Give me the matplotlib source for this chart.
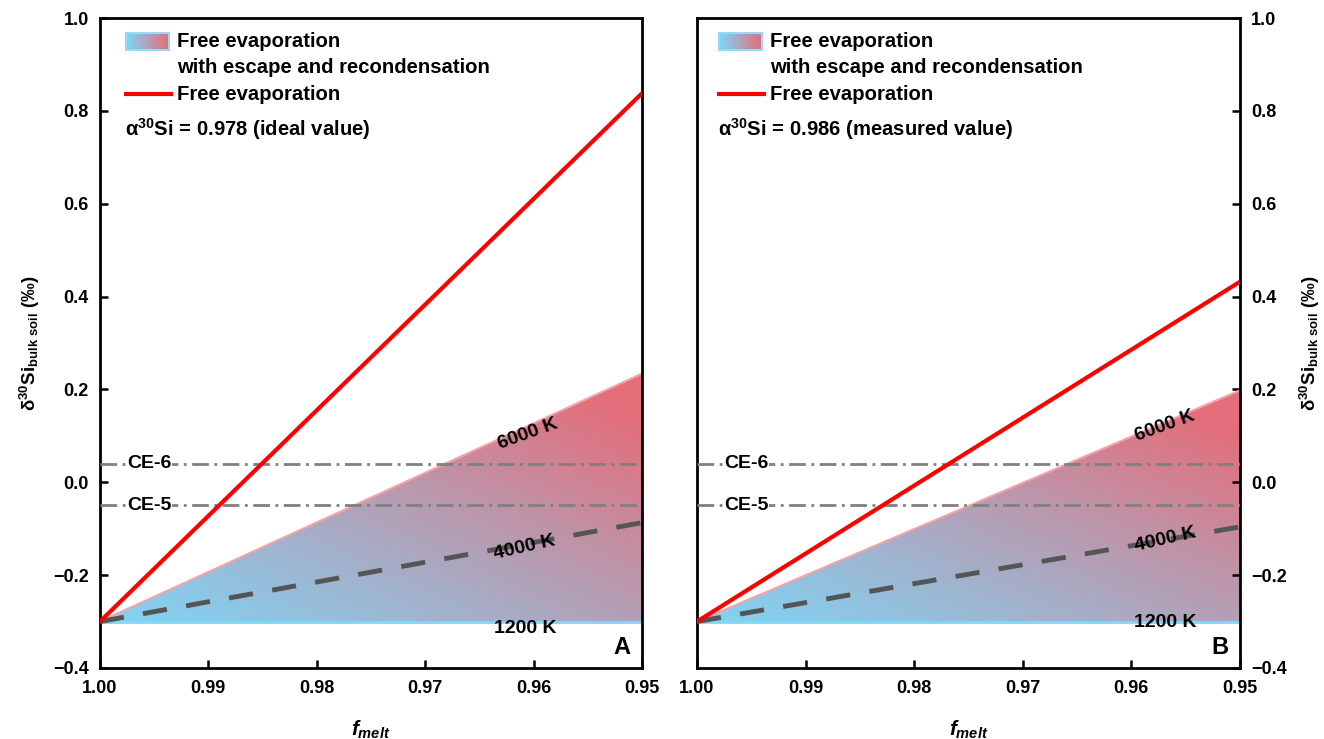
import numpy as np
import matplotlib
matplotlib.use("Agg")
import matplotlib.pyplot as plt
from matplotlib.patches import Polygon, Rectangle
from matplotlib.colors import to_rgb

plt.rcParams['font.family'] = ['Liberation Sans', 'DejaVu Sans']
plt.rcParams['font.weight'] = 'bold'
plt.rcParams['mathtext.fontset'] = 'custom'
plt.rcParams['mathtext.rm'] = 'Liberation Sans:bold'
plt.rcParams['mathtext.it'] = 'Liberation Sans:bold:italic'
plt.rcParams['mathtext.bf'] = 'Liberation Sans:bold'

# data
f_start, f_end = 1.00, 0.95
d_start = -0.30
panels = ["A", "B"]
alpha_txt = ["α$^{30}$Si = 0.978 (ideal value)", "α$^{30}$Si = 0.986 (measured value)"]
free_evap_end = [0.838, 0.432]      # red line at f=0.95
k6000_end = [0.234, 0.198]          # top of the band at f=0.95
k4000_end = [-0.087, -0.096]        # dashed line at f=0.95
ce_names = ["CE-6", "CE-5"]
ce_values = [0.04, -0.05]
xticks = [1.00, 0.99, 0.98, 0.97, 0.96, 0.95]
yticks = [-0.4, -0.2, 0.0, 0.2, 0.4, 0.6, 0.8, 1.0]

# label positions (f, delta, rotation) per panel
lab6000 = [(0.9605, 0.103, 20), (0.9569, 0.120, 20)]
lab4000 = [(0.9608, -0.140, 13), (0.9569, -0.124, 13)]
lab1200 = [(0.9608, -0.316, 0), (0.9569, -0.303, 0)]

blue = np.array(to_rgb('#80D4F5'))
red = np.array(to_rgb('#E46E7A'))

fig = plt.figure(figsize=(13.24, 7.39), dpi=100)
axA = fig.add_axes([0.0755, 0.0961, 0.4094, 0.8795])
axB = fig.add_axes([0.5264, 0.0961, 0.4101, 0.8795])

for i, ax in enumerate([axA, axB]):
    ax.set_xlim(f_start, f_end)
    ax.set_ylim(-0.4, 1.0)

    top = k6000_end[i]
    # gradient band
    n = 200
    xn = np.linspace(0, 1, n)[None, :]
    yn = np.linspace(0, 1, n)[:, None]
    t = np.clip((0.55 * xn + 0.55 * yn) ** 1.1, 0, 1)
    img = blue[None, None, :] * (1 - t[..., None]) + red[None, None, :] * t[..., None]
    im = ax.imshow(img, extent=[f_start, f_end, d_start, top], origin='lower',
                   aspect='auto', interpolation='bilinear', zorder=1)
    tri = Polygon([[f_start, d_start], [f_end, top], [f_end, d_start]],
                  closed=True, facecolor='none', edgecolor='none',
                  transform=ax.transData)
    ax.add_patch(tri)
    im.set_clip_path(tri)
    ax.plot([f_start, f_end], [d_start, top], color='#F4A3AB', lw=1.5, zorder=2)
    ax.plot([f_start, f_end], [d_start, d_start], color='#7FD6F7', lw=2, zorder=2)

    # CE lines
    for name, v in zip(ce_names, ce_values):
        ax.plot([f_start, f_end], [v, v], color='#808080', lw=2,
                dashes=(6, 2, 1, 2), zorder=3)
        ax.text(0.9975, v, name, fontsize=14, fontweight='bold', va='center',
                ha='left', zorder=4,
                bbox=dict(facecolor='white', edgecolor='none', pad=0.5))

    # 4000 K dashed line
    ax.plot([f_start, f_end], [d_start, k4000_end[i]], color='#555555', lw=3.5,
            dashes=(5, 4), zorder=3)
    # free evaporation
    ax.plot([f_start, f_end], [d_start, free_evap_end[i]], color='#FF0000', lw=3,
            zorder=5, solid_capstyle='butt')

    for (fx, dy, rot), s in zip([lab6000[i], lab4000[i], lab1200[i]],
                                ["6000 K", "4000 K", "1200 K"]):
        ax.text(fx, dy, s, fontsize=14, fontweight='bold', rotation=rot,
                ha='center', va='center', rotation_mode='anchor', zorder=6)

    # legend, drawn by hand
    dx = 0.0 if i == 0 else -0.007
    nstr = 24
    x0, x1, y0, y1 = 0.048 + dx, 0.127 + dx, 0.951, 0.977
    for k in range(nstr):
        c = blue * (1 - k / (nstr - 1)) + red * (k / (nstr - 1))
        ax.add_patch(Rectangle((x0 + (x1 - x0) * k / nstr, y0), (x1 - x0) / nstr + 0.001,
                               y1 - y0, transform=ax.transAxes, facecolor=c,
                               edgecolor='none', zorder=6))
    ax.add_patch(Rectangle((x0, y0), x1 - x0, y1 - y0, transform=ax.transAxes,
                           facecolor='none', edgecolor='#8FDDF8', lw=1.5, zorder=7))
    fs_leg = 14.6
    ax.text(0.142 + dx, 0.9635, "Free evaporation", transform=ax.transAxes,
            fontsize=fs_leg, fontweight='bold', va='center', ha='left')
    ax.text(0.142 + dx, 0.9235, "with escape and recondensation", transform=ax.transAxes,
            fontsize=fs_leg, fontweight='bold', va='center', ha='left')
    ax.plot([0.044 + dx, 0.135 + dx], [0.883, 0.883], transform=ax.transAxes,
            color='#FF0000', lw=3, solid_capstyle='butt')
    ax.text(0.142 + dx, 0.883, "Free evaporation", transform=ax.transAxes,
            fontsize=fs_leg, fontweight='bold', va='center', ha='left')
    ax.text(0.046 + dx, 0.829, alpha_txt[i], transform=ax.transAxes,
            fontsize=fs_leg, fontweight='bold', va='center', ha='left')

    ax.text(0.963, 0.031, panels[i], transform=ax.transAxes, fontsize=17,
            fontweight='bold', ha='center', va='center')

    ax.set_xticks(xticks)
    ax.set_xticklabels([f"{v:.2f}" for v in xticks])
    ax.set_yticks(yticks)
    ax.set_yticklabels([f"{v:.1f}".replace("-", "\u2212") for v in yticks])
    for sp in ax.spines.values():
        sp.set_linewidth(2)
    ax.tick_params(direction='in', length=6, width=1.8, labelsize=13)
    ax.tick_params(axis='x', pad=9)
    ax.tick_params(axis='y', pad=8)
    for lbl in ax.get_xticklabels() + ax.get_yticklabels():
        lbl.set_fontweight('bold')
    ax.set_xlabel(r"$\mathit{f}_{\mathit{melt}}$", fontsize=15, labelpad=15)

    ylab = "δ$^{30}$Si$_{\\mathrm{bulk\\ soil}}$ (‰)"
    if i == 0:
        ax.tick_params(left=True, right=False, labelleft=True, labelright=False,
                       top=False)
        ax.set_ylabel(ylab, fontsize=13.5, fontweight='bold', labelpad=8)
    else:
        ax.tick_params(left=False, right=True, labelleft=False, labelright=True,
                       top=False)
        ax.yaxis.set_label_position('right')
        ax.set_ylabel(ylab, fontsize=13.5, fontweight='bold', rotation=90, labelpad=8)

fig.savefig("out.png", dpi=100)
